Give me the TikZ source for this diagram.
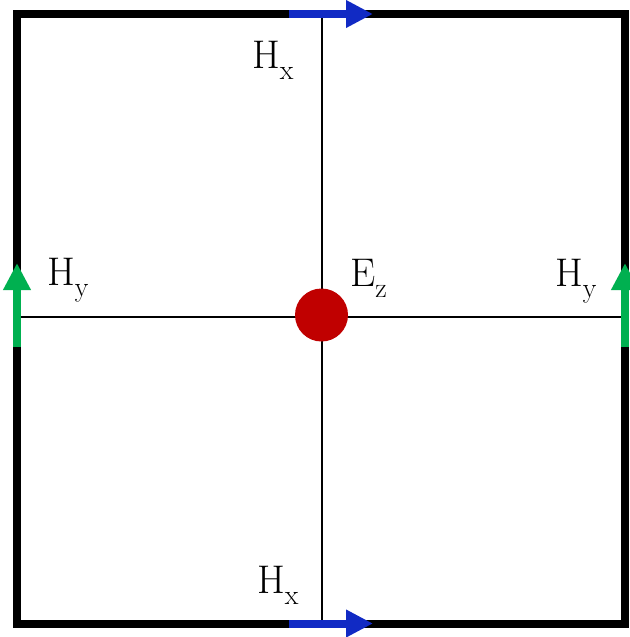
\documentclass[tikz,border=0pt]{standalone}
\usepackage{fontspec}
\usetikzlibrary{arrows.meta}
\definecolor{hblue}{RGB}{17,42,196}
\definecolor{hgreen}{RGB}{0,176,80}
\definecolor{ered}{RGB}{192,0,0}
\newcommand{\fsub}[2]{#1\raisebox{-11pt}{\fontsize{28}{30}\selectfont #2}}
\begin{document}
\begin{tikzpicture}[x=1pt,y=-1pt,
  frame/.style={line width=8pt,draw=black},
  gridline/.style={line width=2pt,draw=black},
  field/.style={line width=8pt,-{Triangle[length=27pt,width=26pt]}},
  lbl/.style={anchor=base west,inner sep=0pt,font=\fontsize{40}{48}\selectfont}]
\useasboundingbox (0,0) rectangle (629,637);
% coordinates
\coordinate (tl) at (17,14);
\coordinate (br) at (625,623.5);
\coordinate (top) at (322,14);
\coordinate (bot) at (322,623.5);
\coordinate (lft) at (17,317);
\coordinate (rgt) at (625,317);
% grid lines
\draw[gridline] (top) -- (bot);
\draw[gridline] (lft) -- (rgt);
% frame
\draw[frame] (tl) rectangle (br);
% field arrows
\coordinate (hxta) at (289,14);   \coordinate (hxtb) at (373,14);
\coordinate (hxba) at (289,623.5); \coordinate (hxbb) at (373,623.5);
\coordinate (hyla) at (17,347);   \coordinate (hylb) at (17,263);
\coordinate (hyra) at (625,347);  \coordinate (hyrb) at (625,263);
\draw[field,hblue] (hxta) -- (hxtb);
\draw[field,hblue] (hxba) -- (hxbb);
\draw[field,hgreen] (hyla) -- (hylb);
\draw[field,hgreen] (hyra) -- (hyrb);
% E_z node
\node[circle,fill=ered,minimum size=53pt,inner sep=0pt] (ez) at (321.5,315) {};
% labels
\node[lbl] (lhxt) at (252,68) {\fsub{H}{x}};
\node[lbl] (lhyl) at (47,285) {\fsub{H}{y}};
\node[lbl] (lez) at (350,286) {\fsub{E}{z}};
\node[lbl] (lhyr) at (555,286) {\fsub{H}{y}};
\node[lbl] (lhxb) at (257,593) {\fsub{H}{x}};
\end{tikzpicture}
\end{document}
